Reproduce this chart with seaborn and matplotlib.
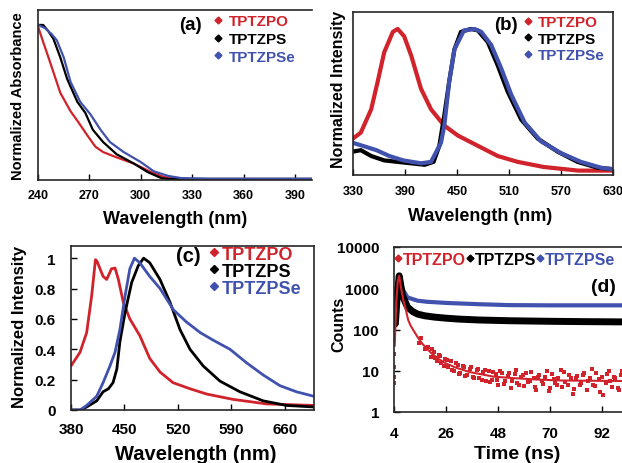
import matplotlib
matplotlib.use("Agg")
import matplotlib.pyplot as plt
import seaborn as sns
from matplotlib.lines import Line2D
from matplotlib.ticker import NullLocator

sns.set_theme(style="ticks")
plt.rcParams["font.family"] = ["Liberation Sans", "DejaVu Sans"]
plt.rcParams["font.weight"] = "bold"
plt.rcParams["axes.linewidth"] = 1.2

W, H = 622, 464
RED = "#d0232b"
BLACK = "#000000"
BLUE = "#4152ae"
names = ["TPTZPO", "TPTZPS", "TPTZPSe"]
colors = [RED, BLACK, BLUE]

# -------------------------------------------------------------
# (a) 吸收光譜
abs_po_x = [240, 242.7, 247, 253, 255, 259, 263.5, 269, 273.5, 278, 286, 296, 306, 313.5, 320, 330, 400]
abs_po_y = [0.99, 0.90, 0.76, 0.56, 0.52, 0.44, 0.37, 0.28, 0.21, 0.175, 0.14, 0.10, 0.045, 0.013, 0.004, 0.0, 0.0]
abs_ps_x = [240, 243, 246, 249, 253, 257, 263, 267.6, 272, 278, 286, 296, 304, 312, 316, 400]
abs_ps_y = [1.0, 1.0, 0.96, 0.91, 0.79, 0.65, 0.50, 0.43, 0.32, 0.24, 0.16, 0.10, 0.045, 0.006, 0.0, 0.0]
abs_pse_x = [240, 244, 248, 251, 255, 259, 264.7, 270.6, 276.5, 282, 290, 300, 307.6, 316, 323.5, 340, 400]
abs_pse_y = [1.0, 0.98, 0.94, 0.90, 0.79, 0.63, 0.50, 0.42, 0.32, 0.24, 0.175, 0.11, 0.05, 0.02, 0.006, 0.002, 0.002]

# (b) 發光光譜
pl1_po_x = [330, 339, 351, 358.5, 366, 376, 381.5, 389, 397, 408.5, 420, 435, 451, 474, 497, 520, 550, 590, 630]
pl1_po_y = [0.25, 0.29, 0.45, 0.64, 0.84, 0.98, 1.0, 0.95, 0.82, 0.59, 0.45, 0.34, 0.27, 0.20, 0.13, 0.09, 0.055, 0.03, 0.03]
pl1_ps_x = [330, 339, 351, 366, 381, 397, 412.7, 423, 429.6, 435.4, 441, 447, 454.6, 466, 474, 485.5, 497, 508.5, 524, 543, 566, 589, 612, 630]
pl1_ps_y = [0.16, 0.17, 0.13, 0.10, 0.09, 0.08, 0.07, 0.09, 0.20, 0.41, 0.64, 0.86, 0.98, 1.0, 0.99, 0.91, 0.75, 0.57, 0.38, 0.25, 0.16, 0.09, 0.05, 0.04]
pl1_pse_x = [330, 341, 357, 372, 388, 408.5, 420, 431.5, 435.4, 441, 447, 458, 470, 478, 489.5, 501, 512.6, 528, 547, 570, 593, 616, 630]
pl1_pse_y = [0.22, 0.20, 0.17, 0.13, 0.10, 0.08, 0.09, 0.22, 0.34, 0.64, 0.86, 0.99, 1.0, 0.98, 0.89, 0.73, 0.55, 0.36, 0.23, 0.15, 0.09, 0.05, 0.04]

# (c) 薄膜發光光譜
pl2_po_x = [380, 391.8, 400.5, 407, 412, 414, 422, 426.7, 433, 437.6, 442, 448.4, 457, 470, 483, 496.5, 513.5, 535.7, 557.6, 592, 636, 698]
pl2_po_y = [0.29, 0.38, 0.51, 0.75, 0.99, 0.98, 0.88, 0.86, 0.93, 0.935, 0.86, 0.71, 0.60, 0.49, 0.34, 0.25, 0.18, 0.14, 0.105, 0.07, 0.04, 0.03]
pl2_ps_x = [380, 392, 400.5, 413.6, 422, 429, 435, 440, 444, 450.7, 459.4, 468, 475, 483, 496.4, 509.5, 522.6, 535.7, 553, 575, 601, 631.7, 662, 698]
pl2_ps_y = [0.0, 0.0, 0.02, 0.06, 0.12, 0.14, 0.18, 0.27, 0.45, 0.64, 0.84, 0.95, 1.0, 0.97, 0.86, 0.71, 0.53, 0.40, 0.29, 0.19, 0.12, 0.06, 0.03, 0.02]
pl2_pse_x = [380, 392, 400.5, 413.6, 422, 431, 437.6, 444, 450.7, 457, 463, 470, 483, 496.5, 514, 531, 549, 566, 588, 610, 631.7, 653.5, 675, 698]
pl2_pse_y = [0.0, 0.0, 0.03, 0.09, 0.18, 0.29, 0.38, 0.53, 0.75, 0.93, 1.0, 0.97, 0.88, 0.80, 0.66, 0.58, 0.51, 0.46, 0.40, 0.31, 0.23, 0.16, 0.12, 0.09]

# (d) 暫態衰減
tr_po_t = [4.3, 5.0, 5.6, 6.2, 7.0, 8.0, 9.0, 10, 11, 12, 14, 16, 18, 20, 23, 26, 30, 36, 42, 46, 55, 65, 75, 90, 108]
tr_po_c = [40, 500, 1500, 2000, 1000, 500, 300, 170, 125, 100, 65, 45, 34, 26, 19, 15, 12, 9.3, 8.0, 7.2, 6.6, 6.1, 5.8, 5.7, 5.6]
tr_ps_t = [4.0, 4.6, 5.2, 6.2, 7.6, 9.7, 12, 14, 17, 21, 26, 32, 40, 53, 70, 85, 108]
tr_ps_c = [130, 140, 500, 2000, 660, 350, 270, 236, 215, 200, 188, 178, 170, 163, 158, 155, 152]
tr_pse_t = [4.0, 4.6, 5.3, 6.2, 7.6, 9.7, 13.9, 18, 26.4, 40, 52.8, 70, 108]
tr_pse_c = [400, 420, 900, 2000, 960, 600, 500, 470, 440, 410, 390, 385, 385]
# 紅色散點（讀自圖中雜訊帶）
po_dots_t = [4.1, 4.1, 4.1, 4.1, 4.1, 4.1, 4.1, 4.1,
             20, 21.5, 23, 24, 25.5, 27, 28, 29.5, 31, 32, 33.5, 35, 36, 37.5, 39, 40, 41.5, 43, 44, 45.5,
             47, 48, 49.5, 51, 52, 53.5, 55, 56, 57.5, 59, 60, 61.5, 63, 64, 65.5, 67, 68, 69.5, 71, 72,
             73.5, 75, 76, 77.5, 79, 80, 81.5, 83, 84, 85.5, 87, 88, 89.5, 91, 92, 93.5, 95, 96, 97.5, 99,
             100, 101.5, 103, 104, 105.5, 107,
             14.5, 15.5, 17, 18.5, 19.5, 21, 22, 23.5, 25, 26.5, 28.5, 30, 31.5, 33, 34, 36.5, 38, 39.5,
             41, 42.5, 44.5, 46, 47.5, 49, 50.5, 52.5, 54, 55.5, 57, 58.5, 60.5, 62, 63.5, 65, 66.5, 68.5,
             70, 71.5, 73, 74.5, 76.5, 78, 79.5, 81, 82.5, 84.5, 86, 87.5, 89, 90.5, 92.5, 94, 95.5, 97,
             98.5, 100.5, 102, 103.5, 105, 106.5]
po_dots_c = [5, 7, 12, 25, 60, 150, 400, 900,
             33, 20, 24, 15, 19, 12, 17, 10, 14, 9, 12.5, 8, 11, 7, 10.5, 6.5, 9.5, 5.5, 10, 6,
             8.5, 4.5, 9, 5.5, 7.5, 3.8, 8.5, 5, 7, 4.2, 9, 5.5, 6.5, 3.5, 8, 4.8, 7, 3.2, 8.5, 5,
             6.5, 4, 9.5, 4.5, 6.5, 3.6, 7.5, 5, 8, 3.4, 6.5, 4.6, 9, 3, 7, 5, 10, 4, 6.5, 3.5,
             8, 5, 7.5, 3.2, 6, 9,
             48, 62, 33, 38, 22, 29, 17, 23, 13, 18, 10.5, 15, 8.5, 13, 7.5, 12, 6.8, 11,
             6, 10.5, 5.2, 9.5, 6, 10, 4.8, 9, 5.8, 10.5, 4.4, 7.8, 5.2, 9.5, 4, 7.2, 5.5, 9.8,
             3.8, 6.2, 4.6, 10.5, 5.2, 7.8, 2.8, 6.8, 4.4, 9, 5.5, 11, 4.2, 6.2, 2.6, 8.2, 5.6, 7,
             3.8, 9.6, 4.8, 6.6, 10.8, 4.4]

fig = plt.figure(figsize=(W / 100, H / 100), dpi=100)


def px_axes(l, t, r, b):
    return fig.add_axes([l / W, 1 - b / H, (r - l) / W, (b - t) / H])


def diamond_legend(ax, x0, ytop, fs, ms, hl, htp, ls, ncol=1, cs=0.5):
    handles = [Line2D([], [], ls="none", marker="D", ms=ms, color=c) for c in colors]
    ax.legend(handles, names, loc="upper left", bbox_to_anchor=(x0 / W, 1 - ytop / H),
              bbox_transform=fig.transFigure, frameon=False, borderpad=0, borderaxespad=0,
              handlelength=hl, handletextpad=htp, labelspacing=ls, ncol=ncol, columnspacing=cs,
              prop={"size": fs, "weight": "bold"}, labelcolor=colors)


def ftext(x, y, s, fs, rot=0, color="black"):
    fig.text(x / W, 1 - y / H, s, fontsize=fs, fontweight="bold", ha="center", va="center",
             rotation=rot, color=color)


# -------------------------------------------------------------
# (a)
ax = px_axes(38, 11, 312, 181)
for xs, ys, c in [(abs_po_x, abs_po_y, RED), (abs_ps_x, abs_ps_y, BLACK), (abs_pse_x, abs_pse_y, BLUE)]:
    sns.lineplot(x=xs, y=ys, color=c, linewidth=1.6, ax=ax)
ax.set_xlim(240, 400)
ax.set_ylim(-0.0065, 1.097)
ax.set_xticks([240, 270, 300, 330, 360, 390])
ax.set_yticks([])
ax.spines["right"].set_visible(False)
ax.tick_params(axis="x", direction="in", length=4, width=1, labelsize=9, pad=6.3, colors="black")
diamond_legend(ax, 214, 15.2, 11, 3.5, 0.5, 0.5, 0.24)
ftext(190, 25, "(a)", 13.5)
ftext(175, 220, "Wavelength (nm)", 13)
ftext(18, 96, "Normalized Absorbance", 10.5, rot=90)

# -------------------------------------------------------------
# (b)
ax = px_axes(353, 13, 613, 176)
for xs, ys, c in [(pl1_po_x, pl1_po_y, RED), (pl1_ps_x, pl1_ps_y, BLACK), (pl1_pse_x, pl1_pse_y, BLUE)]:
    sns.lineplot(x=xs, y=ys, color=c, linewidth=3, ax=ax)
ax.set_xlim(330, 630)
ax.set_ylim(0, 1.116)
ax.set_xticks([330, 390, 450, 510, 570, 630])
ax.set_yticks([])
ax.tick_params(axis="x", direction="in", length=4, width=1, labelsize=9, pad=7.3, colors="black")
diamond_legend(ax, 525, 16.2, 11, 3.5, 0.4, 0.45, 0.16)
ftext(506, 25, "(b)", 13.5)
ftext(480, 217, "Wavelength (nm)", 13)
ftext(338, 89, "Normalized Intensity", 11.5, rot=90)

# -------------------------------------------------------------
# (c)
ax = px_axes(71, 247, 314, 411)
for xs, ys, c in [(pl2_po_x, pl2_po_y, RED), (pl2_ps_x, pl2_ps_y, BLACK), (pl2_pse_x, pl2_pse_y, BLUE)]:
    sns.lineplot(x=xs, y=ys, color=c, linewidth=2, ax=ax)
ax.set_xlim(380, 698)
ax.set_ylim(0, 1.08)
ax.set_xticks([380, 450, 520, 590, 660])
ax.set_yticks([0, 0.2, 0.4, 0.6, 0.8, 1.0])
ax.set_yticklabels(["0", "0.2", "0.4", "0.6", "0.8", "1"])
ax.tick_params(axis="both", direction="in", length=4, width=1, labelsize=11, colors="black")
ax.tick_params(axis="x", pad=9)
ax.tick_params(axis="y", pad=11)
diamond_legend(ax, 210.8, 246.6, 13, 4, 0.35, 0.27, 0.0)
ftext(188, 257, "(c)", 14.5)
ftext(196, 455, "Wavelength (nm)", 14.5)
ftext(20, 327, "Normalized Intensity", 12, rot=90)

# -------------------------------------------------------------
# (d)
ax = px_axes(394, 248, 640, 413)
sns.lineplot(x=tr_pse_t, y=tr_pse_c, color=BLUE, linewidth=3, ax=ax)
sns.lineplot(x=tr_ps_t, y=tr_ps_c, color=BLACK, linewidth=5, ax=ax)
sns.lineplot(x=tr_po_t, y=tr_po_c, color=RED, linewidth=1.5, ax=ax)
sns.scatterplot(x=po_dots_t, y=po_dots_c, color=RED, marker="s", s=6, linewidth=0, ax=ax)
ax.set_yscale("log")
ax.set_xlim(4, 108)
ax.set_ylim(1, 10000)
ax.set_xticks([4, 26, 48, 70, 92])
ax.set_yticks([1, 10, 100, 1000, 10000])
ax.set_yticklabels(["1", "10", "100", "1000", "10000"])
ax.yaxis.set_minor_locator(NullLocator())
ax.tick_params(axis="both", direction="in", length=4, width=1, labelsize=11, colors="black")
ax.tick_params(axis="x", pad=9.8)
ax.tick_params(axis="y", pad=10.8)
diamond_legend(ax, 395.6, 252.8, 11.5, 3.5, 0.3, 0.16, 0.0, ncol=3, cs=0.1)
ftext(603, 288, "(d)", 14)
ftext(517, 455, "Time (ns)", 14)
ftext(339, 324, "Counts", 11.5, rot=90)

fig.savefig("out.png", dpi=100)
